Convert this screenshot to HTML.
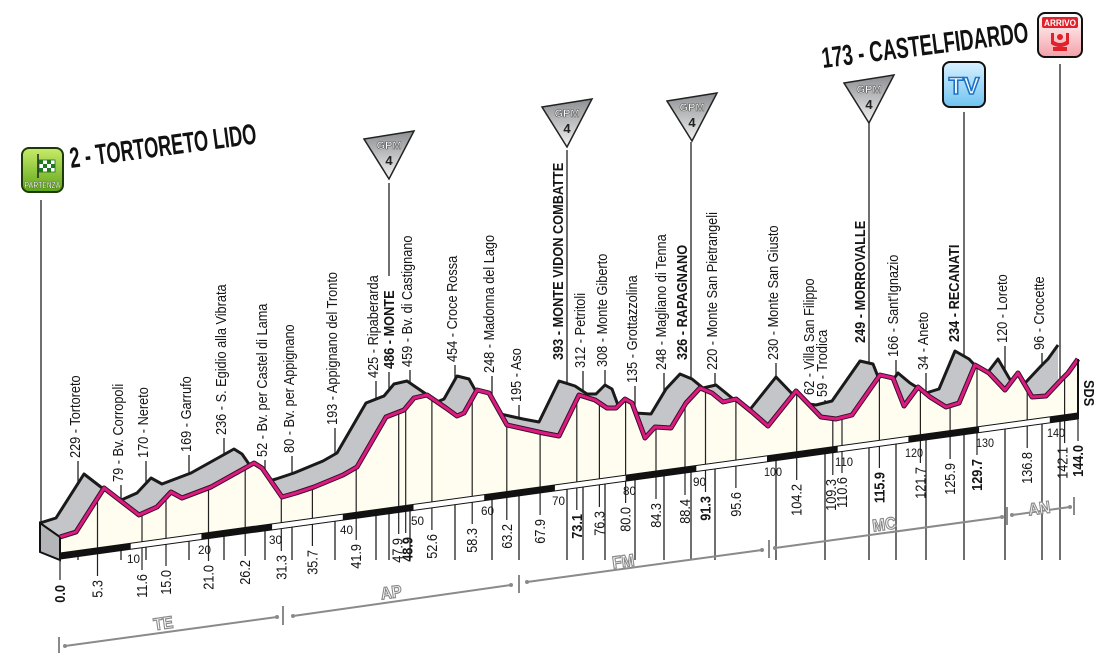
<!DOCTYPE html>
<html><head><meta charset="utf-8"><style>
html,body{margin:0;padding:0;background:#fff}
svg{display:block}
.t{font-family:"Liberation Sans",sans-serif;font-size:15px;fill:#151515}
.b{font-family:"Liberation Sans",sans-serif;font-size:15px;font-weight:bold;fill:#151515}
.k{font-family:"Liberation Sans",sans-serif;font-size:15px;fill:#151515;text-anchor:end}
.kb{font-family:"Liberation Sans",sans-serif;font-size:15px;font-weight:bold;fill:#151515;text-anchor:end}
.s{font-family:"Liberation Sans",sans-serif;font-size:12px;fill:#151515}
.pv{font-family:"Liberation Sans",sans-serif;font-size:17px;font-weight:bold;fill:#fff;stroke:#8a8a8a;stroke-width:1.2;text-anchor:middle}
.ttl{font-family:"Liberation Sans",sans-serif;font-size:29px;font-weight:bold;fill:#111}
</style></head><body>
<svg width="1112" height="664" viewBox="0 0 1112 664" xmlns="http://www.w3.org/2000/svg">
<defs>
<linearGradient id="gp" x1="0" y1="0" x2="0" y2="1"><stop offset="0" stop-color="#8d8e92"/><stop offset="1" stop-color="#f2f2f2"/></linearGradient>
<linearGradient id="gg" x1="0" y1="0" x2="0" y2="1"><stop offset="0" stop-color="#c9ec6a"/><stop offset="1" stop-color="#5da419"/></linearGradient>
<linearGradient id="gt" x1="0" y1="0" x2="0" y2="1"><stop offset="0" stop-color="#d9f1ff"/><stop offset="1" stop-color="#6fc3f0"/></linearGradient>
<linearGradient id="ga" x1="0" y1="0" x2="0" y2="1"><stop offset="0" stop-color="#ffffff"/><stop offset="1" stop-color="#f4a0a8"/></linearGradient>
<clipPath id="cf"><polygon points="60,537 76,532 104,488 139,515 157,507 171,492 182,498 211,487 254,463 262,468 282,497 296,493 314,487 343,475 357,467 386,417 404,410 414,398 427,395 446,408 457,416 464,413 477,390 489,393 507,425 543,433 559,436 579,395 595,400 607,408 616,408 625,399 632,403 645,438 655,427 671,428 686,403 700,388 712,393 723,402 736,399 752,412 768,426 796,391 821,417 836,419 852,415 880,375 893,378 904,406 918,387 930,397 946,407 959,403 975,365 989,373 1005,390 1018,373 1032,397 1046,396 1061,380 1068,373 1078,359 1090,359 1090,700 50,700 50,537"/></clipPath>
</defs>

<!-- top label lines (hidden under profile) -->
<g stroke="#222" stroke-width="1.3">
<line x1="78" y1="461" x2="78" y2="560"/><line x1="121" y1="485" x2="121" y2="560"/>
<line x1="146" y1="461" x2="146" y2="560"/><line x1="189" y1="455" x2="189" y2="560"/>
<line x1="224" y1="438" x2="224" y2="560"/><line x1="265" y1="460" x2="265" y2="560"/>
<line x1="292" y1="456" x2="292" y2="560"/><line x1="335" y1="428" x2="335" y2="560"/>
<line x1="376" y1="381" x2="376" y2="560"/><line x1="389" y1="372" x2="389" y2="560"/>
<line x1="410" y1="370" x2="410" y2="560"/><line x1="455" y1="365" x2="455" y2="560"/>
<line x1="492" y1="376" x2="492" y2="560"/><line x1="519" y1="405" x2="519" y2="560"/>
<line x1="583" y1="371" x2="583" y2="560"/><line x1="605" y1="370" x2="605" y2="560"/>
<line x1="635" y1="386" x2="635" y2="560"/><line x1="664" y1="373" x2="664" y2="560"/>
<line x1="715" y1="373" x2="715" y2="560"/><line x1="776" y1="363" x2="776" y2="560"/>
<line x1="825" y1="400" x2="825" y2="560"/><line x1="896" y1="360" x2="896" y2="560"/>
<line x1="926" y1="373" x2="926" y2="560"/><line x1="1005" y1="346" x2="1005" y2="560"/>
<line x1="1042" y1="353" x2="1042" y2="560"/>
<line x1="389" y1="183" x2="389" y2="276"/>
<line x1="567" y1="150" x2="567" y2="560"/><line x1="691" y1="142" x2="691" y2="560"/>
<line x1="869" y1="122" x2="869" y2="560"/><line x1="964" y1="112" x2="964" y2="560"/>
<line x1="1060" y1="64" x2="1060" y2="560"/><line x1="41" y1="200" x2="41" y2="530"/>
</g>

<!-- back (gray) extrusion -->
<g transform="translate(-20,-14)">
<polygon fill="#c4c5c9" points="60,537 76,532 104,488 139,515 157,507 171,492 182,498 211,487 254,463 262,468 282,497 296,493 314,487 343,475 357,467 386,417 404,410 414,398 427,395 446,408 457,416 464,413 477,390 489,393 507,425 543,433 559,436 579,395 595,400 607,408 616,408 625,399 632,403 645,438 655,427 671,428 686,403 700,388 712,393 723,402 736,399 752,412 768,426 796,391 821,417 836,419 852,415 880,375 893,378 904,406 918,387 930,397 946,407 959,403 975,365 989,373 1005,390 1018,373 1032,397 1046,396 1061,380 1068,373 1078,359 1078,413 60,553"/>
<polyline fill="none" stroke="#1a1a1a" stroke-width="3" stroke-linejoin="round" points="60,537 76,532 104,488 139,515 157,507 171,492 182,498 211,487 254,463 262,468 282,497 296,493 314,487 343,475 357,467 386,417 404,410 414,398 427,395 446,408 457,416 464,413 477,390 489,393 507,425 543,433 559,436 579,395 595,400 607,408 616,408 625,399 632,403 645,438 655,427 671,428 686,403 700,388 712,393 723,402 736,399 752,412 768,426 796,391 821,417 836,419 852,415 880,375 893,378 904,406 918,387 930,397 946,407 959,403 975,365 989,373 1005,390 1018,373 1032,397 1046,396 1061,380 1068,373 1078,359"/>
</g>
<polygon points="40,523 60,537 60,560 40,552" fill="#b4b5b9" stroke="#111" stroke-width="2"/>

<!-- front face -->
<polygon fill="#fffdf0" points="60,537 76,532 104,488 139,515 157,507 171,492 182,498 211,487 254,463 262,468 282,497 296,493 314,487 343,475 357,467 386,417 404,410 414,398 427,395 446,408 457,416 464,413 477,390 489,393 507,425 543,433 559,436 579,395 595,400 607,408 616,408 625,399 632,403 645,438 655,427 671,428 686,403 700,388 712,393 723,402 736,399 752,412 768,426 796,391 821,417 836,419 852,415 880,375 893,378 904,406 918,387 930,397 946,407 959,403 975,365 989,373 1005,390 1018,373 1032,397 1046,396 1061,380 1068,373 1078,359 1078,413 60,553"/>

<!-- km lines -->
<g stroke="#222" stroke-width="1.2" clip-path="url(#cf)">
<line x1="97.5" y1="330" x2="97.5" y2="576"/><line x1="142" y1="330" x2="142" y2="570"/>
<line x1="166" y1="330" x2="166" y2="566"/><line x1="208.5" y1="330" x2="208.5" y2="561"/>
<line x1="245.2" y1="330" x2="245.2" y2="556"/><line x1="281.3" y1="330" x2="281.3" y2="551"/>
<line x1="312.4" y1="330" x2="312.4" y2="546"/><line x1="356.2" y1="330" x2="356.2" y2="540"/>
<line x1="398.7" y1="330" x2="398.7" y2="534"/><line x1="405.7" y1="330" x2="405.7" y2="533"/>
<line x1="431.9" y1="330" x2="431.9" y2="530"/><line x1="472.2" y1="330" x2="472.2" y2="524"/>
<line x1="506.8" y1="330" x2="506.8" y2="520"/><line x1="540.1" y1="330" x2="540.1" y2="515"/>
<line x1="576.8" y1="330" x2="576.8" y2="510"/><line x1="599.4" y1="330" x2="599.4" y2="507"/>
<line x1="625.6" y1="330" x2="625.6" y2="503"/><line x1="656" y1="330" x2="656" y2="499"/>
<line x1="685" y1="330" x2="685" y2="495"/><line x1="705.5" y1="330" x2="705.5" y2="492"/>
<line x1="735.9" y1="330" x2="735.9" y2="488"/><line x1="796.7" y1="330" x2="796.7" y2="480"/>
<line x1="832.8" y1="330" x2="832.8" y2="475"/><line x1="842" y1="330" x2="842" y2="473"/>
<line x1="879.4" y1="330" x2="879.4" y2="468"/><line x1="920.4" y1="330" x2="920.4" y2="463"/>
<line x1="950.1" y1="330" x2="950.1" y2="459"/><line x1="977" y1="330" x2="977" y2="455"/>
<line x1="1027.2" y1="330" x2="1027.2" y2="448"/><line x1="1064.6" y1="330" x2="1064.6" y2="443"/>
<line x1="1078" y1="330" x2="1078" y2="441"/><line x1="60" y1="553" x2="60" y2="580"/>
</g>

<!-- bar -->
<polygon points="60,553 1078,413 1078,419 60,559" fill="#fff" stroke="#111" stroke-width="1"/>
<g fill="#111">
<polygon points="60,553 130.7,543.3 130.7,549.3 60,559"/>
<polygon points="201.4,533.6 272.1,523.8 272.1,529.8 201.4,539.6"/>
<polygon points="342.8,514.1 413.5,504.4 413.5,510.4 342.8,520.1"/>
<polygon points="484.2,494.7 554.9,485 554.9,491 484.2,500.7"/>
<polygon points="625.6,475.2 696.3,465.5 696.3,471.5 625.6,481.2"/>
<polygon points="767,455.8 837.7,446.1 837.7,452.1 767,461.8"/>
<polygon points="908.4,436.3 979.1,426.6 979.1,432.6 908.4,442.3"/>
<polygon points="1049.8,416.9 1078,413 1078,419 1049.8,422.9"/>
</g>
<g class="s" transform="translate(0,0)">
<text x="127" y="563" transform="scale(1,1)" textLength="13" lengthAdjust="spacingAndGlyphs">10</text>
<text x="198" y="554" textLength="13" lengthAdjust="spacingAndGlyphs">20</text>
<text x="269" y="544" textLength="13" lengthAdjust="spacingAndGlyphs">30</text>
<text x="340" y="534" textLength="13" lengthAdjust="spacingAndGlyphs">40</text>
<text x="411" y="525" textLength="13" lengthAdjust="spacingAndGlyphs">50</text>
<text x="481" y="515" textLength="13" lengthAdjust="spacingAndGlyphs">60</text>
<text x="552" y="505" textLength="13" lengthAdjust="spacingAndGlyphs">70</text>
<text x="623" y="495" textLength="13" lengthAdjust="spacingAndGlyphs">80</text>
<text x="693" y="486" textLength="13" lengthAdjust="spacingAndGlyphs">90</text>
<text x="764" y="476" textLength="18" lengthAdjust="spacingAndGlyphs">100</text>
<text x="835" y="466" textLength="18" lengthAdjust="spacingAndGlyphs">110</text>
<text x="905" y="457" textLength="18" lengthAdjust="spacingAndGlyphs">120</text>
<text x="976" y="447" textLength="18" lengthAdjust="spacingAndGlyphs">130</text>
<text x="1047" y="437" textLength="18" lengthAdjust="spacingAndGlyphs">140</text>
</g>

<!-- pink line -->
<polyline fill="none" stroke="#3a1026" stroke-width="5" stroke-linejoin="round" points="60,537 76,532 104,488 139,515 157,507 171,492 182,498 211,487 254,463 262,468 282,497 296,493 314,487 343,475 357,467 386,417 404,410 414,398 427,395 446,408 457,416 464,413 477,390 489,393 507,425 543,433 559,436 579,395 595,400 607,408 616,408 625,399 632,403 645,438 655,427 671,428 686,403 700,388 712,393 723,402 736,399 752,412 768,426 796,391 821,417 836,419 852,415 880,375 893,378 904,406 918,387 930,397 946,407 959,403 975,365 989,373 1005,390 1018,373 1032,397 1046,396 1061,380 1068,373 1078,359"/>
<polyline fill="none" stroke="#dc1b82" stroke-width="3" stroke-linejoin="round" points="60,537 76,532 104,488 139,515 157,507 171,492 182,498 211,487 254,463 262,468 282,497 296,493 314,487 343,475 357,467 386,417 404,410 414,398 427,395 446,408 457,416 464,413 477,390 489,393 507,425 543,433 559,436 579,395 595,400 607,408 616,408 625,399 632,403 645,438 655,427 671,428 686,403 700,388 712,393 723,402 736,399 752,412 768,426 796,391 821,417 836,419 852,415 880,375 893,378 904,406 918,387 930,397 946,407 959,403 975,365 989,373 1005,390 1018,373 1032,397 1046,396 1061,380 1068,373 1078,359"/>
<line x1="1078" y1="359" x2="1078" y2="419" stroke="#111" stroke-width="2"/>
<line x1="60" y1="537" x2="60" y2="559" stroke="#111" stroke-width="2"/>
<text class="b" transform="translate(1084,380) rotate(90) scale(0.85,1)">SDS</text>

<!-- top labels -->
<g>
<text class="t" transform="translate(80,458) rotate(-90) scale(0.85,1)">229 - Tortoreto</text>
<text class="t" transform="translate(123,482) rotate(-90) scale(0.85,1)">79 - Bv. Corropoli</text>
<text class="t" transform="translate(148,458) rotate(-90) scale(0.85,1)">170 - Nereto</text>
<text class="t" transform="translate(191,452) rotate(-90) scale(0.85,1)">169 - Garrufo</text>
<text class="t" transform="translate(226,435) rotate(-90) scale(0.85,1)">236 - S. Egidio alla Vibrata</text>
<text class="t" transform="translate(267,457) rotate(-90) scale(0.85,1)">52 - Bv. per Castel di Lama</text>
<text class="t" transform="translate(294,453) rotate(-90) scale(0.85,1)">80 - Bv. per Appignano</text>
<text class="t" transform="translate(337,425) rotate(-90) scale(0.85,1)">193 - Appignano del Tronto</text>
<text class="t" transform="translate(378,378) rotate(-90) scale(0.85,1)">425 - Ripaberarda</text>
<text class="b" transform="translate(394,369) rotate(-90) scale(0.85,1)">486 - MONTE</text>
<text class="t" transform="translate(412,367) rotate(-90) scale(0.85,1)">459 - Bv. di Castignano</text>
<text class="t" transform="translate(457,362) rotate(-90) scale(0.85,1)">454 - Croce Rossa</text>
<text class="t" transform="translate(494,373) rotate(-90) scale(0.85,1)">248 - Madonna del Lago</text>
<text class="t" transform="translate(521,402) rotate(-90) scale(0.85,1)">195 - Aso</text>
<text class="b" transform="translate(563,360) rotate(-90) scale(0.85,1)">393 - MONTE VIDON COMBATTE</text>
<text class="t" transform="translate(585,368) rotate(-90) scale(0.85,1)">312 - Petritoli</text>
<text class="t" transform="translate(607,367) rotate(-90) scale(0.85,1)">308 - Monte Giberto</text>
<text class="t" transform="translate(637,383) rotate(-90) scale(0.85,1)">135 - Grottazzolina</text>
<text class="t" transform="translate(666,370) rotate(-90) scale(0.85,1)">248 - Magliano di Tenna</text>
<text class="b" transform="translate(687,360) rotate(-90) scale(0.85,1)">326 - RAPAGNANO</text>
<text class="t" transform="translate(717,370) rotate(-90) scale(0.85,1)">220 - Monte San Pietrangeli</text>
<text class="t" transform="translate(778,360) rotate(-90) scale(0.85,1)">230 - Monte San Giusto</text>
<text class="t" transform="translate(814,395) rotate(-90) scale(0.85,1)">62 - Villa San Filippo</text>
<text class="t" transform="translate(827,397) rotate(-90) scale(0.85,1)">59 - Trodica</text>
<text class="b" transform="translate(865,343) rotate(-90) scale(0.85,1)">249 - MORROVALLE</text>
<text class="t" transform="translate(898,357) rotate(-90) scale(0.85,1)">166 - Sant'Ignazio</text>
<text class="t" transform="translate(928,370) rotate(-90) scale(0.85,1)">34 - Aneto</text>
<text class="b" transform="translate(959,342) rotate(-90) scale(0.85,1)">234 - RECANATI</text>
<text class="t" transform="translate(1007,343) rotate(-90) scale(0.85,1)">120 - Loreto</text>
<text class="t" transform="translate(1044,350) rotate(-90) scale(0.85,1)">96 - Crocette</text>
</g>

<!-- km labels -->
<g>
<text class="kb" transform="translate(65,585) rotate(-90) scale(0.85,1)">0.0</text>
<text class="k" transform="translate(102.5,580) rotate(-90) scale(0.85,1)">5.3</text>
<text class="k" transform="translate(147,574) rotate(-90) scale(0.85,1)">11.6</text>
<text class="k" transform="translate(171,570) rotate(-90) scale(0.85,1)">15.0</text>
<text class="k" transform="translate(213.5,565) rotate(-90) scale(0.85,1)">21.0</text>
<text class="k" transform="translate(250.2,560) rotate(-90) scale(0.85,1)">26.2</text>
<text class="k" transform="translate(286.3,555) rotate(-90) scale(0.85,1)">31.3</text>
<text class="k" transform="translate(317.4,550) rotate(-90) scale(0.85,1)">35.7</text>
<text class="k" transform="translate(361.2,544) rotate(-90) scale(0.85,1)">41.9</text>
<text class="k" transform="translate(402.7,538) rotate(-90) scale(0.85,1)">47.9</text>
<text class="kb" transform="translate(412.7,537) rotate(-90) scale(0.85,1)">48.9</text>
<text class="k" transform="translate(436.9,534) rotate(-90) scale(0.85,1)">52.6</text>
<text class="k" transform="translate(477.2,528) rotate(-90) scale(0.85,1)">58.3</text>
<text class="k" transform="translate(511.8,524) rotate(-90) scale(0.85,1)">63.2</text>
<text class="k" transform="translate(545.1,519) rotate(-90) scale(0.85,1)">67.9</text>
<text class="kb" transform="translate(581.8,514) rotate(-90) scale(0.85,1)">73.1</text>
<text class="k" transform="translate(604.4,511) rotate(-90) scale(0.85,1)">76.3</text>
<text class="k" transform="translate(630.6,507) rotate(-90) scale(0.85,1)">80.0</text>
<text class="k" transform="translate(661,503) rotate(-90) scale(0.85,1)">84.3</text>
<text class="k" transform="translate(690,499) rotate(-90) scale(0.85,1)">88.4</text>
<text class="kb" transform="translate(710.5,496) rotate(-90) scale(0.85,1)">91.3</text>
<text class="k" transform="translate(740.9,492) rotate(-90) scale(0.85,1)">95.6</text>
<text class="k" transform="translate(801.7,484) rotate(-90) scale(0.85,1)">104.2</text>
<text class="k" transform="translate(835.8,479) rotate(-90) scale(0.85,1)">109.3</text>
<text class="k" transform="translate(847,477) rotate(-90) scale(0.85,1)">110.6</text>
<text class="kb" transform="translate(884.4,472) rotate(-90) scale(0.85,1)">115.9</text>
<text class="k" transform="translate(925.4,467) rotate(-90) scale(0.85,1)">121.7</text>
<text class="k" transform="translate(955.1,463) rotate(-90) scale(0.85,1)">125.9</text>
<text class="kb" transform="translate(982,459) rotate(-90) scale(0.85,1)">129.7</text>
<text class="k" transform="translate(1032.2,452) rotate(-90) scale(0.85,1)">136.8</text>
<text class="k" transform="translate(1067.6,447) rotate(-90) scale(0.85,1)">142.1</text>
<text class="kb" transform="translate(1083,445) rotate(-90) scale(0.85,1)">144.0</text>
</g>

<!-- provinces -->
<g stroke="#8a8a8a" stroke-width="2" fill="none">
<line x1="59" y1="637" x2="59" y2="653"/><line x1="65" y1="646" x2="277" y2="617"/>
<line x1="283" y1="606" x2="283" y2="625"/><line x1="293" y1="616" x2="511" y2="585"/>
<line x1="519" y1="575" x2="519" y2="593"/><line x1="527" y1="582" x2="762" y2="550"/>
<line x1="769" y1="540" x2="769" y2="558"/><line x1="775" y1="548" x2="1002" y2="517"/>
<line x1="1007" y1="507" x2="1007" y2="525"/><line x1="1012" y1="515" x2="1070" y2="507"/>
<line x1="1074" y1="497" x2="1074" y2="515"/>
</g>
<g fill="#8a8a8a">
<circle cx="65" cy="646" r="2"/><circle cx="277" cy="617" r="2"/><circle cx="293" cy="616" r="2"/><circle cx="511" cy="585" r="2"/>
<circle cx="527" cy="582" r="2"/><circle cx="762" cy="550" r="2"/><circle cx="775" cy="548" r="2"/><circle cx="1002" cy="517" r="2"/>
<circle cx="1012" cy="515" r="2"/><circle cx="1070" cy="507" r="2"/>
</g>
<text class="pv" transform="translate(164,629) rotate(-7.8) scale(0.9,1)">TE</text>
<text class="pv" transform="translate(392,598) rotate(-7.8) scale(0.9,1)">AP</text>
<text class="pv" transform="translate(624,567) rotate(-7.8) scale(0.9,1)">FM</text>
<text class="pv" transform="translate(885,530) rotate(-7.8) scale(0.9,1)">MC</text>
<text class="pv" transform="translate(1040,514) rotate(-7.8) scale(0.9,1)">AN</text>

<!-- titles -->
<text class="ttl" transform="translate(71,168) rotate(-7.5)" textLength="188" lengthAdjust="spacingAndGlyphs">2 - TORTORETO LIDO</text>
<text class="ttl" transform="translate(823,68) rotate(-7.2)" textLength="208" lengthAdjust="spacingAndGlyphs">173 - CASTELFIDARDO</text>

<!-- GPM triangles -->
<g font-family="Liberation Sans,sans-serif" font-weight="bold" text-anchor="middle">
<g transform="translate(389,0)">
<polygon points="-25,139 25,131 0,179" fill="url(#gp)" stroke="#222" stroke-width="1.5"/>
<text x="0" y="149" font-size="11" fill="#fff" stroke="#555" stroke-width="0.6">GPM</text>
<text x="0" y="165" font-size="13" fill="#222">4</text></g>
<g transform="translate(567,-32)">
<polygon points="-25,139 25,131 0,179" fill="url(#gp)" stroke="#222" stroke-width="1.5"/>
<text x="0" y="149" font-size="11" fill="#fff" stroke="#555" stroke-width="0.6">GPM</text>
<text x="0" y="165" font-size="13" fill="#222">4</text></g>
<g transform="translate(692,-38)">
<polygon points="-25,139 25,131 0,179" fill="url(#gp)" stroke="#222" stroke-width="1.5"/>
<text x="0" y="149" font-size="11" fill="#fff" stroke="#555" stroke-width="0.6">GPM</text>
<text x="0" y="165" font-size="13" fill="#222">4</text></g>
<g transform="translate(869,-56)">
<polygon points="-25,139 25,131 0,179" fill="url(#gp)" stroke="#222" stroke-width="1.5"/>
<text x="0" y="149" font-size="11" fill="#fff" stroke="#555" stroke-width="0.6">GPM</text>
<text x="0" y="165" font-size="13" fill="#222">4</text></g>
</g>

<!-- icons -->
<g>
<rect x="22" y="148" width="41" height="44" rx="7" fill="url(#gg)" stroke="#1d3a06" stroke-width="2"/>
<line x1="38" y1="154" x2="38" y2="178" stroke="#222" stroke-width="1.5"/>
<rect x="39" y="160" width="16" height="12" fill="#fff" stroke="#1e6b1e" stroke-width="0.8"/>
<rect x="39" y="160" width="4" height="4" fill="#1e7a1e"/><rect x="47" y="160" width="4" height="4" fill="#1e7a1e"/>
<rect x="43" y="164" width="4" height="4" fill="#1e7a1e"/><rect x="51" y="164" width="4" height="4" fill="#1e7a1e"/>
<rect x="39" y="168" width="4" height="4" fill="#1e7a1e"/><rect x="47" y="168" width="4" height="4" fill="#1e7a1e"/>
<text x="42.5" y="188" font-family="Liberation Sans,sans-serif" font-size="8" font-weight="bold" fill="#fff" stroke="#1d3a06" stroke-width="0.3" text-anchor="middle" textLength="36" lengthAdjust="spacingAndGlyphs">PARTENZA</text>

<rect x="943" y="62" width="42" height="45" rx="7" fill="url(#gt)" stroke="#111" stroke-width="2"/>
<text x="964" y="94" font-family="Liberation Sans,sans-serif" font-size="24" font-weight="bold" fill="#fff" stroke="#1a73c8" stroke-width="1.6" text-anchor="middle">TV</text>

<rect x="1038" y="13" width="44" height="44" rx="7" fill="url(#ga)" stroke="#111" stroke-width="2"/>
<rect x="1042" y="17" width="36" height="11" rx="2" fill="#e0202a"/>
<text x="1060" y="26" font-family="Liberation Sans,sans-serif" font-size="9" font-weight="bold" fill="#fff" text-anchor="middle" textLength="32" lengthAdjust="spacingAndGlyphs">ARRIVO</text>
<path d="M1051,33 L1051,44 Q1060,50 1069,44 L1069,33 L1066,33 L1066,41 Q1060,45 1054,41 L1054,33 Z" fill="#e0202a"/>
<circle cx="1060" cy="37" r="3" fill="#e0202a"/>
<rect x="1053" y="47" width="14" height="4" fill="#e0202a"/>
</g>
</svg>
</body></html>
